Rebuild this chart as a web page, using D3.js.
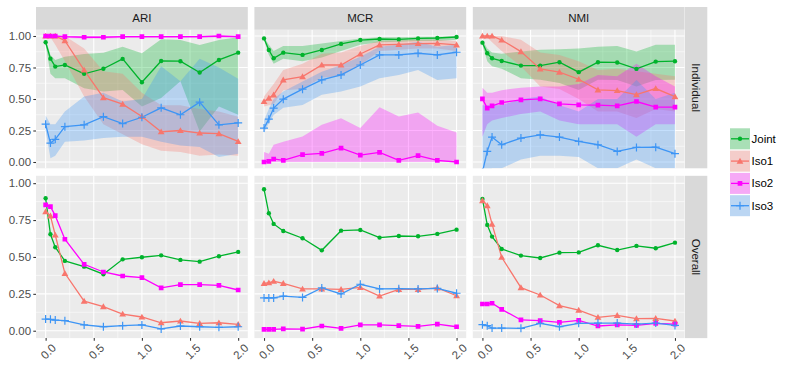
<!DOCTYPE html>
<html><head><meta charset="utf-8">
<script src="https://cdn.jsdelivr.net/npm/d3@7/dist/d3.min.js"></script>
<style>body{margin:0;background:#fff}svg{display:block;font-family:"Liberation Sans",Arial,Helvetica,sans-serif}</style>
</head><body><svg id="c" width="789" height="371"></svg>
<script>
const xs = [0, 0.05, 0.1, 0.2, 0.4, 0.6, 0.8, 1.0, 1.2, 1.4, 1.6, 1.8, 2.0];
const metrics = ["ARI", "MCR", "NMI"];
const rows = ["Individual", "Overall"];
const seriesNames = ["Joint", "Iso1", "Iso2", "Iso3"];
const xTicks = [0, 0.5, 1.0, 1.5, 2.0];
const xTickLabels = ["0.0", "0.5", "1.0", "1.5", "2.0"];
const yTicks = [0, 0.25, 0.5, 0.75, 1.0];
const yTickLabels = ["0.00", "0.25", "0.50", "0.75", "1.00"];

// ARI Individual
const ariIndJoint   = [0.95, 0.82, 0.757, 0.77, 0.70, 0.74, 0.818, 0.633, 0.802, 0.80, 0.71, 0.81, 0.868];
const ariIndJointHi = [0.98, 0.85, 0.81, 0.836, 0.857, 0.868, 0.915, 0.863, 0.974, 0.968, 0.929, 0.968, 0.99];
const ariIndJointLo = [0.93, 0.70, 0.665, 0.665, 0.586, 0.56, 0.572, 0.44, 0.507, 0.64, 0.242, 0.44, 0.375];
const ariIndIso1    = [1.0, 1.0, 1.0, 0.963, 0.73, 0.511, 0.459, 0.361, 0.24, 0.25, 0.23, 0.225, 0.163];
const ariIndIso1Hi  = [1.0, 1.0, 1.0, 1.0, 0.9, 0.72, 0.7, 0.55, 0.45, 0.45, 0.42, 0.4, 0.36];
const ariIndIso1Lo  = [1.0, 0.99, 0.93, 0.8, 0.52, 0.3, 0.22, 0.14, 0.09, 0.08, 0.05, 0.06, 0.05];
const ariIndIso2    = [1.0, 1.0, 1.0, 0.995, 0.99, 0.99, 0.995, 0.995, 0.995, 0.995, 0.995, 1.0, 0.995];
const ariIndIso2Hi  = [1, 1, 1, 1, 1, 1, 1, 1, 1, 1, 1, 1, 1];
const ariIndIso2Lo  = [0.99, 0.99, 0.99, 0.985, 0.98, 0.98, 0.985, 0.985, 0.985, 0.985, 0.985, 0.99, 0.985];
const ariIndIso3    = [0.30, 0.15, 0.18, 0.28, 0.295, 0.36, 0.305, 0.355, 0.43, 0.375, 0.475, 0.295, 0.31];
const ariIndIso3Hi  = [0.37, 0.30, 0.30, 0.40, 0.52, 0.55, 0.48, 0.50, 0.76, 0.64, 0.82, 0.75, 0.66];
const ariIndIso3Lo  = [0.25, 0.03, 0.05, 0.16, 0.17, 0.19, 0.2, 0.2, 0.16, 0.13, 0.12, 0.04, 0.065];
// MCR Individual
const mcrIndJoint   = [0.981, 0.889, 0.823, 0.868, 0.85, 0.889, 0.937, 0.968, 0.976, 0.973, 0.981, 0.984, 0.992];
const mcrIndJointHi = [0.99, 0.93, 0.88, 0.92, 0.92, 0.94, 0.96, 0.98, 0.99, 0.99, 0.995, 0.995, 0.998];
const mcrIndJointLo = [0.97, 0.85, 0.78, 0.82, 0.8, 0.83, 0.88, 0.93, 0.95, 0.955, 0.96, 0.96, 0.97];
const mcrIndIso1    = [0.48, 0.507, 0.533, 0.652, 0.678, 0.77, 0.77, 0.857, 0.929, 0.934, 0.94, 0.942, 0.929];
const mcrIndIso1Hi  = [0.52, 0.57, 0.62, 0.73, 0.78, 0.86, 0.87, 0.92, 0.96, 0.965, 0.97, 0.97, 0.96];
const mcrIndIso1Lo  = [0.44, 0.45, 0.46, 0.57, 0.58, 0.67, 0.68, 0.77, 0.88, 0.89, 0.9, 0.9, 0.88];
const mcrIndIso2    = [0.0, 0.005, 0.024, 0.013, 0.058, 0.068, 0.11, 0.055, 0.076, 0.013, 0.05, 0.013, 0.0];
const mcrIndIso2Hi  = [0.08, 0.066, 0.137, 0.16, 0.203, 0.295, 0.348, 0.27, 0.435, 0.361, 0.393, 0.287, 0.234];
const mcrIndIso2Lo  = [0, 0, 0, 0, 0, 0, 0, 0, 0, 0, 0, 0, 0];
const mcrIndIso3    = [0.269, 0.34, 0.428, 0.499, 0.578, 0.652, 0.691, 0.77, 0.85, 0.85, 0.863, 0.85, 0.871];
const mcrIndIso3Hi  = [0.33, 0.42, 0.5, 0.56, 0.638, 0.717, 0.77, 0.836, 0.915, 0.93, 0.955, 0.915, 0.93];
const mcrIndIso3Lo  = [0.23, 0.31, 0.374, 0.43, 0.453, 0.533, 0.559, 0.599, 0.665, 0.691, 0.73, 0.65, 0.665];
// NMI Individual
const nmiIndJoint   = [0.947, 0.863, 0.823, 0.802, 0.765, 0.765, 0.792, 0.713, 0.792, 0.79, 0.739, 0.797, 0.80];
const nmiIndJointHi = [0.97, 0.9, 0.87, 0.86, 0.876, 0.89, 0.894, 0.9, 0.915, 0.92, 0.876, 0.93, 0.93];
const nmiIndJointLo = [0.93, 0.8, 0.76, 0.74, 0.665, 0.652, 0.626, 0.572, 0.652, 0.65, 0.6, 0.65, 0.652];
const nmiIndIso1    = [1.0, 1.0, 1.0, 0.968, 0.876, 0.739, 0.713, 0.657, 0.572, 0.567, 0.535, 0.583, 0.519];
const nmiIndIso1Hi  = [1.0, 1.0, 1.0, 1.0, 0.97, 0.87, 0.85, 0.8, 0.73, 0.74, 0.72, 0.7, 0.68];
const nmiIndIso1Lo  = [1.0, 0.99, 0.95, 0.88, 0.76, 0.6, 0.58, 0.5, 0.4, 0.4, 0.35, 0.42, 0.4];
const nmiIndIso2    = [0.501, 0.428, 0.446, 0.472, 0.493, 0.501, 0.462, 0.454, 0.451, 0.446, 0.48, 0.435, 0.435];
const nmiIndIso2Hi  = [0.59, 0.55, 0.55, 0.57, 0.59, 0.6, 0.6, 0.62, 0.69, 0.68, 0.78, 0.68, 0.6];
const nmiIndIso2Lo  = [0.2, 0.3, 0.33, 0.35, 0.38, 0.4, 0.33, 0.3, 0.3, 0.3, 0.2, 0.3, 0.3];
const nmiIndIso3    = [-0.08, 0.084, 0.198, 0.137, 0.19, 0.216, 0.198, 0.163, 0.137, 0.084, 0.116, 0.118, 0.066];
const nmiIndIso3Hi  = [0.45, 0.45, 0.45, 0.45, 0.5, 0.52, 0.45, 0.4, 0.5, 0.5, 0.65, 0.5, 0.55];
const nmiIndIso3Lo  = [-0.2, -0.1, -0.05, -0.05, 0.02, 0.05, 0.05, 0.04, -0.05, -0.05, 0.02, -0.05, -0.05];
// Overall
const ariAllJoint = [0.898, 0.654, 0.566, 0.473, 0.434, 0.383, 0.484, 0.498, 0.511, 0.48, 0.468, 0.505, 0.534];
const ariAllIso1  = [0.807, 0.778, 0.649, 0.389, 0.201, 0.163, 0.113, 0.093, 0.054, 0.066, 0.05, 0.054, 0.043];
const ariAllIso2  = [0.853, 0.841, 0.78, 0.62, 0.45, 0.398, 0.371, 0.36, 0.29, 0.312, 0.312, 0.307, 0.276];
const ariAllIso3  = [0.079, 0.077, 0.072, 0.068, 0.039, 0.027, 0.034, 0.039, 0.012, 0.032, 0.027, 0.023, 0.027];
const mcrAllJoint = [0.959, 0.796, 0.724, 0.676, 0.627, 0.545, 0.678, 0.683, 0.631, 0.642, 0.64, 0.656, 0.685];
const mcrAllIso1  = [0.321, 0.325, 0.335, 0.321, 0.283, 0.283, 0.28, 0.294, 0.235, 0.28, 0.28, 0.29, 0.237];
const mcrAllIso2  = [0.009, 0.009, 0.009, 0.013, 0.011, 0.032, 0.016, 0.039, 0.039, 0.034, 0.03, 0.045, 0.027];
const mcrAllIso3  = [0.222, 0.222, 0.222, 0.235, 0.226, 0.29, 0.249, 0.315, 0.283, 0.285, 0.283, 0.287, 0.254];
const nmiAllJoint = [0.893, 0.717, 0.638, 0.554, 0.509, 0.493, 0.529, 0.531, 0.579, 0.547, 0.575, 0.559, 0.597];
const nmiAllIso1  = [0.882, 0.848, 0.722, 0.498, 0.292, 0.242, 0.17, 0.14, 0.091, 0.104, 0.082, 0.084, 0.066];
const nmiAllIso2  = [0.181, 0.181, 0.186, 0.145, 0.073, 0.068, 0.057, 0.07, 0.032, 0.039, 0.036, 0.05, 0.045];
const nmiAllIso3  = [0.041, 0.034, 0.018, 0.018, 0.016, 0.05, 0.027, 0.05, 0.052, 0.052, 0.045, 0.052, 0.036];

const colors = {Joint: "#00B32C", Iso1: "#F8766D", Iso2: "#FF00FF", Iso3: "#3D95F5"};
const shapes = {Joint: "circle", Iso1: "triangle", Iso2: "square", Iso3: "plus"};

const ind = {
  ARI: {Joint: [ariIndJoint, ariIndJointLo, ariIndJointHi], Iso1: [ariIndIso1, ariIndIso1Lo, ariIndIso1Hi], Iso2: [ariIndIso2, ariIndIso2Lo, ariIndIso2Hi], Iso3: [ariIndIso3, ariIndIso3Lo, ariIndIso3Hi]},
  MCR: {Joint: [mcrIndJoint, mcrIndJointLo, mcrIndJointHi], Iso1: [mcrIndIso1, mcrIndIso1Lo, mcrIndIso1Hi], Iso2: [mcrIndIso2, mcrIndIso2Lo, mcrIndIso2Hi], Iso3: [mcrIndIso3, mcrIndIso3Lo, mcrIndIso3Hi]},
  NMI: {Joint: [nmiIndJoint, nmiIndJointLo, nmiIndJointHi], Iso1: [nmiIndIso1, nmiIndIso1Lo, nmiIndIso1Hi], Iso2: [nmiIndIso2, nmiIndIso2Lo, nmiIndIso2Hi], Iso3: [nmiIndIso3, nmiIndIso3Lo, nmiIndIso3Hi]}
};
const all = {
  ARI: {Joint: ariAllJoint, Iso1: ariAllIso1, Iso2: ariAllIso2, Iso3: ariAllIso3},
  MCR: {Joint: mcrAllJoint, Iso1: mcrAllIso1, Iso2: mcrAllIso2, Iso3: mcrAllIso3},
  NMI: {Joint: nmiAllJoint, Iso1: nmiAllIso1, Iso2: nmiAllIso2, Iso3: nmiAllIso3}
};

const svg = d3.select("#c");
const panelX = [36, 254.4, 472.8], panelW = 211.8;
const rowY = [29.7, 175.8], rowH = [138.6, 162.3];
const stripTop = 7, rightStripX = 685, rightStripW = 22.3;
const textCol = "#4D4D4D";

function drawPoint(g, shape, x, y, col) {
  if (shape === "plus") {
    g.append("path").attr("d", `M${x-4},${y}H${x+4}M${x},${y-4}V${y+4}`).attr("stroke", col).attr("stroke-width", 1.2).attr("fill", "none");
  } else {
    const t = shape === "circle" ? d3.symbolCircle : shape === "square" ? d3.symbolSquare : d3.symbolTriangle;
    const s = shape === "circle" ? 15 : shape === "square" ? 22 : 20;
    const dy = shape === "triangle" ? 0.6 : 0;
    g.append("path").attr("d", d3.symbol().type(t).size(s)()).attr("transform", `translate(${x},${y+dy})`).attr("fill", col);
  }
}

const defs = svg.append("defs");
metrics.forEach((m, ci) => {
  rows.forEach((r, ri) => {
    const x0 = panelX[ci], y0 = rowY[ri], h = rowH[ri];
    const x = d3.scaleLinear().domain([-0.1, 2.1]).range([x0, x0 + panelW]);
    const y = d3.scaleLinear().domain([-0.05, 1.05]).range([y0 + h, y0]);
    const cid = `clip${ci}${ri}`;
    defs.append("clipPath").attr("id", cid).append("rect").attr("x", x0).attr("y", y0).attr("width", panelW).attr("height", h);
    svg.append("rect").attr("x", x0).attr("y", y0).attr("width", panelW).attr("height", h).attr("fill", "#EBEBEB");
    const grid = svg.append("g");
    [0.125, 0.375, 0.625, 0.875].forEach(v => grid.append("line").attr("x1", x0).attr("x2", x0 + panelW).attr("y1", y(v)).attr("y2", y(v)).attr("stroke", "#fff").attr("stroke-width", 0.55));
    [0.25, 0.75, 1.25, 1.75].forEach(v => grid.append("line").attr("y1", y0).attr("y2", y0 + h).attr("x1", x(v)).attr("x2", x(v)).attr("stroke", "#fff").attr("stroke-width", 0.55));
    yTicks.forEach(v => grid.append("line").attr("x1", x0).attr("x2", x0 + panelW).attr("y1", y(v)).attr("y2", y(v)).attr("stroke", "#fff").attr("stroke-width", 1.1));
    xTicks.forEach(v => grid.append("line").attr("y1", y0).attr("y2", y0 + h).attr("x1", x(v)).attr("x2", x(v)).attr("stroke", "#fff").attr("stroke-width", 1.1));

    const g = svg.append("g").attr("clip-path", `url(#${cid})`);
    if (ri === 0) {
      seriesNames.forEach(s => {
        const [mean, lo, hi] = ind[m][s];
        const area = d3.area().x((d, i) => x(xs[i])).y0((d, i) => y(lo[i])).y1((d, i) => y(hi[i]));
        g.append("path").attr("d", area(mean)).attr("fill", colors[s]).attr("fill-opacity", 0.3);
      });
    }
    const getMean = s => ri === 0 ? ind[m][s][0] : all[m][s];
    const line = d3.line().x((d, i) => x(xs[i])).y(d => y(d));
    seriesNames.forEach(s => {
      g.append("path").attr("d", line(getMean(s))).attr("fill", "none").attr("stroke", colors[s]).attr("stroke-width", 1.3);
    });
    seriesNames.forEach(s => {
      getMean(s).forEach((v, i) => drawPoint(g, shapes[s], x(xs[i]), y(v), colors[s]));
    });

    if (ci === 0) {
      const ax = svg.append("g").attr("transform", `translate(${x0},0)`)
        .call(d3.axisLeft(y).tickValues(yTicks).tickFormat((d, i) => yTickLabels[i]).tickSize(2.7).tickPadding(2.2));
      ax.select(".domain").remove();
      ax.selectAll("line").attr("stroke", "#333").attr("stroke-width", 1.07);
      ax.selectAll("text").attr("fill", textCol).attr("font-size", 11.5).attr("font-family", "Liberation Sans, Arial, sans-serif");
    }
    if (ri === 1) {
      const ax = svg.append("g").attr("transform", `translate(0,${y0 + h})`)
        .call(d3.axisBottom(x).tickValues(xTicks).tickFormat((d, i) => xTickLabels[i]).tickSize(2.7));
      ax.select(".domain").remove();
      ax.selectAll("line").attr("stroke", "#333").attr("stroke-width", 1.07);
      ax.selectAll("text").attr("fill", textCol).attr("font-size", 11.5).attr("font-family", "Liberation Sans, Arial, sans-serif")
        .attr("text-anchor", "end").attr("dy", null).attr("y", null)
        .attr("transform", "translate(5,5) rotate(-45)").attr("dominant-baseline", "hanging");
    }
    if (ri === 0) {
      svg.append("rect").attr("x", x0).attr("y", stripTop).attr("width", panelW).attr("height", y0 - stripTop).attr("fill", "#D9D9D9");
      svg.append("text").attr("x", x0 + panelW / 2).attr("y", (stripTop + y0) / 2).attr("text-anchor", "middle").attr("dominant-baseline", "central")
        .attr("font-size", 11.5).attr("fill", "#1A1A1A").text(m);
    }
    if (ci === 2) {
      // top-row strip reaches up to the top of the column strips
      const sTop = ri === 0 ? stripTop : y0;
      const sH = y0 + h - sTop;
      svg.append("rect").attr("x", rightStripX).attr("y", sTop).attr("width", rightStripW).attr("height", sH).attr("fill", "#D9D9D9");
      svg.append("text").attr("transform", `translate(${rightStripX + rightStripW / 2},${sTop + sH / 2}) rotate(90)`)
        .attr("text-anchor", "middle").attr("dominant-baseline", "central").attr("font-size", 11.5).attr("fill", "#1A1A1A").text(r);
    }
  });
});

// legend
const legX = 730, legY = [128.3, 150.6, 172.9, 195.2], keyW = 20, keyH = 21;
seriesNames.forEach((s, i) => {
  const ky = legY[i];
  svg.append("rect").attr("x", legX).attr("y", ky).attr("width", keyW).attr("height", keyH).attr("fill", "#F2F2F2");
  svg.append("rect").attr("x", legX).attr("y", ky).attr("width", keyW).attr("height", keyH).attr("fill", colors[s]).attr("fill-opacity", 0.3);
  svg.append("line").attr("x1", legX + 1).attr("x2", legX + keyW - 1).attr("y1", ky + keyH / 2).attr("y2", ky + keyH / 2).attr("stroke", colors[s]).attr("stroke-width", 1.3);
  drawPoint(svg, shapes[s], legX + keyW / 2, ky + keyH / 2, colors[s]);
  svg.append("text").attr("x", legX + keyW + 1.5).attr("y", ky + keyH / 2).attr("dominant-baseline", "central").attr("font-size", 11.5).attr("fill", "#000").text(s);
});
</script></body></html>
